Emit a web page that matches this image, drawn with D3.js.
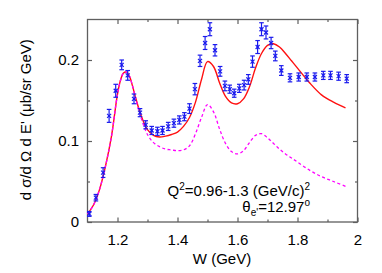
<!DOCTYPE html>
<html>
<head>
<meta charset="utf-8">
<script src="https://cdn.jsdelivr.net/npm/d3@7"></script>
<style>
  html, body { margin: 0; padding: 0; background: #fff; }
  svg { display: block; }
  text { font-family: "Liberation Sans", Arial, Helvetica, sans-serif; fill: #000; }
</style>
</head>
<body>
<svg id="chart" width="382" height="273"></svg>
<script>
// ---- data ----
const dataW = [1.106,1.128,1.152,1.172,1.194,1.214,1.234,1.255,1.275,1.294,1.314,1.333,1.350,1.369,1.388,1.406,1.423,1.440,1.458,1.475,1.492,1.508,1.525,1.542,1.558,1.574,1.589,1.606,1.622,1.636,1.650,1.667,1.680,1.695,1.712,1.726,1.746,1.775,1.804,1.831,1.858,1.886,1.910,1.937,1.964];
const dataXS = [0.010,0.030,0.061,0.131,0.162,0.194,0.181,0.152,0.135,0.120,0.113,0.112,0.113,0.118,0.122,0.126,0.130,0.140,0.164,0.199,0.221,0.238,0.212,0.186,0.168,0.164,0.159,0.165,0.169,0.176,0.198,0.216,0.238,0.234,0.221,0.205,0.187,0.178,0.179,0.179,0.179,0.181,0.181,0.180,0.177];
const dataErr = [0.003,0.004,0.006,0.008,0.008,0.006,0.006,0.006,0.005,0.005,0.005,0.005,0.005,0.005,0.005,0.005,0.005,0.006,0.007,0.007,0.008,0.008,0.007,0.006,0.006,0.005,0.005,0.005,0.006,0.006,0.007,0.008,0.008,0.008,0.007,0.006,0.006,0.005,0.005,0.005,0.005,0.005,0.005,0.005,0.005];

const modelW = [1.10,1.12,1.14,1.16,1.18,1.20,1.21,1.22,1.23,1.24,1.25,1.26,1.28,1.30,1.32,1.34,1.36,1.38,1.40,1.42,1.44,1.46,1.48,1.50,1.52,1.54,1.56,1.58,1.60,1.62,1.64,1.66,1.68,1.70,1.72,1.74,1.76,1.78,1.80,1.84,1.88,1.92,1.96];
const modelTotal = [0.010,0.021,0.040,0.069,0.106,0.158,0.175,0.184,0.185,0.180,0.168,0.154,0.130,0.114,0.107,0.105,0.106,0.108,0.111,0.118,0.129,0.148,0.176,0.198,0.192,0.172,0.155,0.147,0.146,0.152,0.167,0.190,0.208,0.218,0.220,0.216,0.208,0.199,0.190,0.172,0.157,0.148,0.141];
const modelBg = [0.010,0.021,0.040,0.069,0.106,0.158,0.175,0.184,0.185,0.180,0.168,0.153,0.127,0.108,0.098,0.093,0.090,0.089,0.088,0.089,0.094,0.109,0.129,0.145,0.136,0.115,0.097,0.087,0.084,0.088,0.098,0.107,0.109,0.104,0.097,0.090,0.084,0.079,0.074,0.064,0.056,0.050,0.044];

const xMajor = [1.2,1.4,1.6,1.8,2.0];
const xMinor = [1.3,1.5,1.7,1.9];
const yMajor = [0,0.1,0.2];
const yMinor = [0.05,0.15];

// ---- layout ----
const svg = d3.select("#chart");
const L = 87.5, R = 357.5, T = 19.5, B = 222;
const x = d3.scaleLinear().domain([1.1, 2.0]).range([L, R]);
const y = d3.scaleLinear().domain([0, 0.25]).range([B, T]);
const axisColor = "#5f5f5f";
const fs = 15;

// axes ticks
function styleAxis(g) {
  g.select(".domain").remove();
  g.selectAll(".tick line").attr("stroke", axisColor).attr("stroke-width", 1.2);
  g.selectAll("text").attr("font-size", fs).attr("font-family", "Liberation Sans, Arial, sans-serif").attr("fill", "#000");
}
const fmt = d => d === 0 ? "0" : String(+d.toFixed(2));

svg.append("g").attr("transform", `translate(0,${B})`)
  .call(d3.axisBottom(x).tickValues(xMajor).tickSize(-4.5).tickPadding(12).tickFormat(fmt)).call(styleAxis);
svg.append("g").attr("transform", `translate(0,${B})`)
  .call(d3.axisBottom(x).tickValues(xMinor).tickSize(-2.5).tickFormat("")).call(styleAxis);
svg.append("g").attr("transform", `translate(0,${T})`)
  .call(d3.axisTop(x).tickValues(xMajor).tickSize(-4.5).tickFormat("")).call(styleAxis);
svg.append("g").attr("transform", `translate(0,${T})`)
  .call(d3.axisTop(x).tickValues(xMinor).tickSize(-2.5).tickFormat("")).call(styleAxis);

svg.append("g").attr("transform", `translate(${L},0)`)
  .call(d3.axisLeft(y).tickValues(yMajor).tickSize(-4.5).tickPadding(8.5).tickFormat(fmt)).call(styleAxis);
svg.append("g").attr("transform", `translate(${L},0)`)
  .call(d3.axisLeft(y).tickValues(yMinor).tickSize(-2.5).tickFormat("")).call(styleAxis);
svg.append("g").attr("transform", `translate(${R},0)`)
  .call(d3.axisRight(y).tickValues(yMajor).tickSize(-4.5).tickFormat("")).call(styleAxis);
svg.append("g").attr("transform", `translate(${R},0)`)
  .call(d3.axisRight(y).tickValues(yMinor).tickSize(-2.5).tickFormat("")).call(styleAxis);

// frame
svg.append("rect").attr("x", L).attr("y", T).attr("width", R - L).attr("height", B - T)
  .attr("fill", "none").attr("stroke", axisColor).attr("stroke-width", 1.3);

// model curves
const line = (arr) => d3.line().x((d, i) => x(modelW[i])).y(d => y(d)).curve(d3.curveCatmullRom.alpha(0.5))(arr);
svg.append("path").attr("d", line(modelTotal)).attr("fill", "none").attr("stroke", "#ff1010").attr("stroke-width", 1.4);
svg.append("path").attr("d", line(modelBg)).attr("fill", "none").attr("stroke", "#ff00ff").attr("stroke-width", 1.3)
  .attr("stroke-dasharray", "3,2.5");

// data points with error bars
const blue = "#1a1aee";
const pts = svg.append("g").attr("stroke", blue).attr("stroke-width", 1.2).attr("fill", "none");
dataW.forEach((w, i) => {
  const cx = x(w), cy = y(dataXS[i]);
  const y1 = y(dataXS[i] + dataErr[i]), y2 = y(dataXS[i] - dataErr[i]);
  const g = pts.append("g");
  g.append("line").attr("x1", cx).attr("x2", cx).attr("y1", y1).attr("y2", y2);
  g.append("line").attr("x1", cx - 2.3).attr("x2", cx + 2.3).attr("y1", y1).attr("y2", y1);
  g.append("line").attr("x1", cx - 2.3).attr("x2", cx + 2.3).attr("y1", y2).attr("y2", y2);
  g.append("line").attr("x1", cx - 2).attr("x2", cx + 2).attr("y1", cy - 2).attr("y2", cy + 2);
  g.append("line").attr("x1", cx - 2).attr("x2", cx + 2).attr("y1", cy + 2).attr("y2", cy - 2);
});

// axis labels
svg.append("text").attr("x", (L + R) / 2 - 0.5).attr("y", 264).attr("text-anchor", "middle")
  .attr("font-size", fs).text("W (GeV)");
svg.append("text").attr("transform", `translate(31,${(T + B) / 2 - 1}) rotate(-90)`).attr("text-anchor", "middle")
  .attr("font-size", fs).text("d σ/d Ω d E' (μb/sr GeV)");

// annotation
const a1 = svg.append("text").attr("x", 310).attr("y", 196).attr("text-anchor", "end").attr("font-size", fs);
a1.append("tspan").text("Q");
a1.append("tspan").attr("dy", -6).attr("font-size", 10).text("2");
a1.append("tspan").attr("dy", 6).text("=0.96-1.3 (GeV/c)");
a1.append("tspan").attr("dy", -6).attr("font-size", 10).text("2");

const a2 = svg.append("text").attr("x", 310).attr("y", 212).attr("text-anchor", "end").attr("font-size", fs);
a2.append("tspan").text("θ");
a2.append("tspan").attr("dy", 4).attr("font-size", 10).text("e'");
a2.append("tspan").attr("dy", -4).text("=12.97");
a2.append("tspan").attr("dy", -6).attr("font-size", 10).text("o");
</script>
</body>
</html>
